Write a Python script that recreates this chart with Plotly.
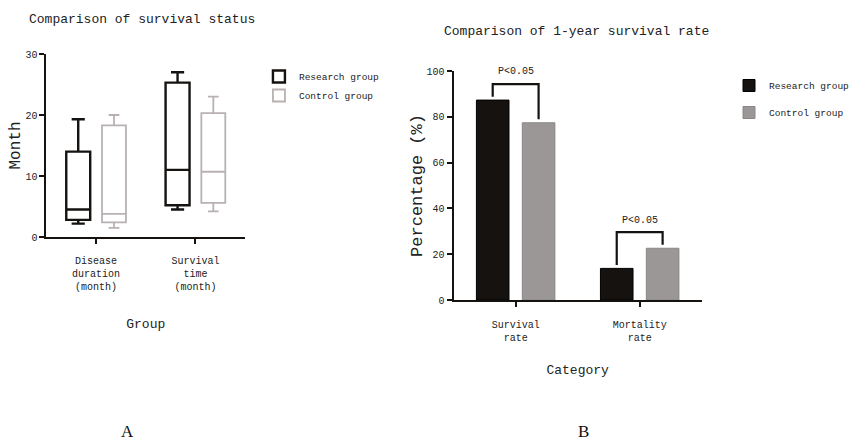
import plotly.graph_objects as go

# ---------------- Data ----------------
# Panel A: box plot statistics (months)
box_categories = ["Disease<br>duration<br>(month)", "Survival<br>time<br>(month)"]
research_low = [2.2, 4.5]
research_q1 = [2.8, 5.2]
research_median = [4.5, 11.0]
research_q3 = [14.0, 25.3]
research_high = [19.3, 27.0]

control_low = [1.5, 4.2]
control_q1 = [2.4, 5.6]
control_median = [3.8, 10.7]
control_q3 = [18.3, 20.3]
control_high = [20.0, 23.0]

# Panel B: 1-year survival rates (%)
bar_categories = ["Survival<br>rate", "Mortality<br>rate"]
research_rate = [87.3, 13.8]
control_rate = [77.4, 22.6]
sig_labels = ["P<0.05", "P<0.05"]

series_names = ["Research group", "Control group"]
y_ticks_a = [0, 10, 20, 30]
y_ticks_b = [0, 20, 40, 60, 80, 100]

# ---------------- Style ----------------
W, H = 855, 442
FONT = "Liberation Mono, DejaVu Sans Mono, monospace"
BLACK = "#151210"
LIGHT = "#b9b1b1"
BAR_GRAY = "#9b9797"


def px_x(p):
    return p / W


def px_y(p):
    return 1 - p / H


fig = go.Figure()

fig.add_trace(go.Box(
    x=box_categories, q1=research_q1, median=research_median, q3=research_q3,
    lowerfence=research_low, upperfence=research_high,
    name=series_names[0], boxpoints=False, fillcolor="white",
    line=dict(color=BLACK, width=2.4), whiskerwidth=0.55,
    xaxis="x", yaxis="y", legend="legend", hoverinfo="skip",
))
fig.add_trace(go.Box(
    x=box_categories, q1=control_q1, median=control_median, q3=control_q3,
    lowerfence=control_low, upperfence=control_high,
    name=series_names[1], boxpoints=False, fillcolor="white",
    line=dict(color=LIGHT, width=1.8), whiskerwidth=0.45,
    xaxis="x", yaxis="y", legend="legend", hoverinfo="skip",
))

fig.add_trace(go.Bar(
    x=bar_categories, y=research_rate, name=series_names[0],
    marker=dict(color=BLACK, line=dict(color="#000000", width=1)),
    xaxis="x2", yaxis="y2", legend="legend2", legendgroup="r",
    hoverinfo="skip",
))
fig.add_trace(go.Bar(
    x=bar_categories, y=control_rate, name=series_names[1],
    marker=dict(color=BAR_GRAY, line=dict(color="#8a8686", width=1)),
    xaxis="x2", yaxis="y2", legend="legend2", legendgroup="c",
    hoverinfo="skip",
))

BARGAP = 0.26
slot = (1 - BARGAP) / 2

shapes = []
annotations = []
for i, (r, c, lab) in enumerate(zip(research_rate, control_rate, sig_labels)):
    xl = i - slot / 2
    xr = i + slot / 2
    top = max(r, c) + 7
    shapes.append(dict(
        type="path", xref="x2", yref="y2",
        path=f"M {xl} {r + 1.5} L {xl} {top} L {xr} {top} L {xr} {c + 1.5}",
        line=dict(color=BLACK, width=2.2),
    ))
    annotations.append(dict(
        x=i, y=top + 2, xref="x2", yref="y2", text=lab, showarrow=False,
        xanchor="center", yanchor="bottom",
        font=dict(family=FONT, size=10, color="#222"),
    ))

annotations += [
    dict(x=px_x(144), y=px_y(20), xref="paper", yref="paper",
         xanchor="center", yanchor="middle",
         text="Comparison of survival status", showarrow=False,
         font=dict(family=FONT, size=13, color="#222")),
    dict(x=px_x(583), y=px_y(32), xref="paper", yref="paper",
         xanchor="center", yanchor="middle",
         text="Comparison of 1-year survival rate", showarrow=False,
         font=dict(family=FONT, size=13, color="#222")),
    dict(x=px_x(129), y=px_y(431), xref="paper", yref="paper",
         xanchor="center", yanchor="middle",
         text="A", showarrow=False,
         font=dict(family="Liberation Serif, serif", size=17, color="#111")),
    dict(x=px_x(590), y=px_y(431), xref="paper", yref="paper",
         xanchor="center", yanchor="middle",
         text="B", showarrow=False,
         font=dict(family="Liberation Serif, serif", size=17, color="#111")),
]

axis_common = dict(
    showgrid=False, zeroline=False, showline=True, linecolor=BLACK,
    linewidth=2, ticks="outside", tickcolor=BLACK, tickwidth=2, ticklen=5,
    automargin=False,
    tickfont=dict(family=FONT, size=10, color="#222"),
)

fig.update_layout(
    template="none",
    width=W, height=H, autosize=False,
    margin=dict(l=0, r=0, t=0, b=0, pad=0),
    paper_bgcolor="white", plot_bgcolor="white",
    boxmode="group", boxgap=0.28, boxgroupgap=0.33,
    barmode="group", bargap=BARGAP, bargroupgap=0.29,
    font=dict(family=FONT, color="#222"),
    xaxis=dict(
        domain=[px_x(47), px_x(248)], anchor="y", type="category",
        range=[-0.5, 1.5], ticklabelstandoff=8,
        title=dict(text="Group", standoff=27,
                   font=dict(family=FONT, size=13, color="#222")),
        **axis_common,
    ),
    yaxis=dict(
        domain=[px_y(237), px_y(54)], anchor="x", range=[0, 30],
        tickvals=y_ticks_a,
        title=dict(text="Month", standoff=0,
                   font=dict(family=FONT, size=16, color="#222")),
        **axis_common,
    ),
    xaxis2=dict(
        domain=[px_x(459), px_x(710)], anchor="y2", type="category",
        range=[-0.5, 1.5], ticklabelstandoff=9,
        title=dict(text="Category", standoff=22,
                   font=dict(family=FONT, size=13, color="#222")),
        **axis_common,
    ),
    yaxis2=dict(
        domain=[px_y(300), px_y(71)], anchor="x2", range=[0, 100],
        tickvals=y_ticks_b,
        title=dict(text="Percentage (%)", standoff=0,
                   font=dict(family=FONT, size=17, color="#222")),
        **axis_common,
    ),
    legend=dict(
        x=px_x(262), y=px_y(62), xanchor="left", yanchor="top",
        font=dict(family=FONT, size=9.5, color="#222"),
        bgcolor="rgba(0,0,0,0)", tracegroupgap=0,
    ),
    legend2=dict(
        x=px_x(738), y=px_y(71), xanchor="left", yanchor="top",
        font=dict(family=FONT, size=9.5, color="#222"),
        bgcolor="rgba(0,0,0,0)", tracegroupgap=8,
    ),
    shapes=shapes,
    annotations=annotations,
    showlegend=True,
)

fig.write_html(
    "out.html",
    config={"displayModeBar": False},
    post_script="document.body.style.margin='0';document.body.style.overflow='hidden';",
)
